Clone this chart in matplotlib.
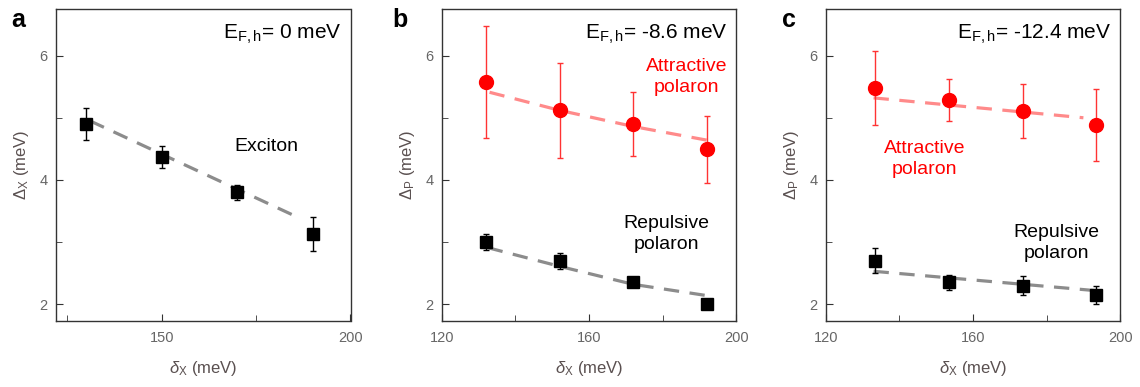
import numpy as np
import matplotlib
matplotlib.use("Agg")
import matplotlib.pyplot as plt
from matplotlib.ticker import MultipleLocator

plt.rcParams['font.family'] = ['Liberation Sans', 'DejaVu Sans']
plt.rcParams['mathtext.fontset'] = 'custom'
plt.rcParams['mathtext.rm'] = 'Liberation Sans'
plt.rcParams['mathtext.it'] = 'Liberation Sans:italic'

# panel a: exciton
x_a = [130, 150, 170, 190]
exc_y = [4.90, 4.37, 3.80, 3.13]
exc_err = [0.26, 0.18, 0.12, 0.28]
exc_fit_x = [131, 186]
exc_fit_y = [4.95, 3.40]

# panel b: E_F,h = -8.6 meV
x_b = [132, 152, 172, 192]
att_b = [5.58, 5.12, 4.90, 4.49]
att_b_err = [0.90, 0.76, 0.52, 0.54]
rep_b = [3.00, 2.70, 2.36, 2.01]
rep_b_err = [0.13, 0.13, 0.05, 0.03]
att_b_fit_x = [133, 152, 172, 192]
att_b_fit_y = [5.41, 5.12, 4.86, 4.64]
rep_b_fit_x = [132.5, 152, 172, 193]
rep_b_fit_y = [2.91, 2.61, 2.32, 2.13]

# panel c: E_F,h = -12.4 meV
x_c = [133.5, 153.5, 173.5, 193.5]
att_c = [5.48, 5.29, 5.11, 4.89]
att_c_err = [0.59, 0.34, 0.43, 0.58]
rep_c = [2.70, 2.35, 2.30, 2.15]
rep_c_err = [0.20, 0.12, 0.15, 0.15]
att_c_fit_x = [133, 190]
att_c_fit_y = [5.32, 5.00]
rep_c_fit_x = [133, 193]
rep_c_fit_y = [2.53, 2.22]

fig = plt.figure(figsize=(11.4, 3.87), dpi=100)
W, H = 1140, 387
lefts = [56, 441.7, 825.7]
axes = [fig.add_axes([l / W, (H - 321) / H, 294.5 / W, 312 / H]) for l in lefts]

tick_col = '#666666'
lab_col = '#5a5050'
grey_fit = '#8c8c8c'
red_fit = '#ff8a8a'


def style(ax, xlim, xmaj, xmin):
    ax.set_xlim(*xlim)
    ax.set_ylim(1.73, 6.75)
    ax.xaxis.set_major_locator(MultipleLocator(xmaj))
    ax.xaxis.set_minor_locator(MultipleLocator(xmin))
    ax.yaxis.set_major_locator(MultipleLocator(2))
    ax.yaxis.set_minor_locator(MultipleLocator(1))
    ax.tick_params(which='both', direction='in', colors='#333333',
                   labelcolor=tick_col, labelsize=10.5)
    ax.tick_params(which='major', length=5)
    ax.tick_params(which='minor', length=4)
    ax.tick_params(axis='x', pad=7)
    ax.tick_params(axis='y', pad=6)
    for s in ax.spines.values():
        s.set_color('#333333')
        s.set_linewidth(1.0)
    ax.set_xlabel(r'$\mathit{\delta}_{\mathrm{X}}$ (meV)', color=lab_col,
                  fontsize=12, labelpad=10)


def fit(ax, xs, ys, col):
    ax.plot(xs, ys, color=col, lw=2.3, dashes=(4.8, 3.3), zorder=1,
            solid_capstyle='butt', dash_capstyle='butt')


def pts(ax, xs, ys, err, marker, col, ecol, ms):
    ax.errorbar(xs, ys, yerr=err, fmt=marker, color=col, ecolor=ecol,
                ms=ms, capsize=2.5, elinewidth=1.0, capthick=1.0, zorder=3)


# a
ax = axes[0]
style(ax, (122, 200), 50, 25)
fit(ax, exc_fit_x, exc_fit_y, grey_fit)
pts(ax, x_a, exc_y, exc_err, 's', 'black', 'black', 9)
ax.set_ylabel(r'$\Delta_{\mathrm{X}}$ (meV)', color=lab_col, fontsize=12, labelpad=6)
ax.text(177.7, 4.53, 'Exciton', fontsize=14, ha='center', va='center')

# b
ax = axes[1]
style(ax, (120, 200), 40, 20)
fit(ax, att_b_fit_x, att_b_fit_y, red_fit)
fit(ax, rep_b_fit_x, rep_b_fit_y, grey_fit)
pts(ax, x_b, att_b, att_b_err, 'o', 'red', '#ff3333', 10)
pts(ax, x_b, rep_b, rep_b_err, 's', 'black', 'black', 9)
ax.set_ylabel(r'$\Delta_{\mathrm{P}}$ (meV)', color=lab_col, fontsize=12, labelpad=6)
ax.text(186.6, 5.65, 'Attractive\npolaron', fontsize=14, ha='center',
        va='center', color='red', linespacing=1.3)
ax.text(181, 3.13, 'Repulsive\npolaron', fontsize=14, ha='center',
        va='center', linespacing=1.3)

# c
ax = axes[2]
style(ax, (120, 200), 40, 20)
fit(ax, att_c_fit_x, att_c_fit_y, red_fit)
fit(ax, rep_c_fit_x, rep_c_fit_y, grey_fit)
pts(ax, x_c, att_c, att_c_err, 'o', 'red', '#ff3333', 10)
pts(ax, x_c, rep_c, rep_c_err, 's', 'black', 'black', 9)
ax.set_ylabel(r'$\Delta_{\mathrm{P}}$ (meV)', color=lab_col, fontsize=12, labelpad=6)
ax.text(146.8, 4.33, 'Attractive\npolaron', fontsize=14, ha='center',
        va='center', color='red', linespacing=1.3)
ax.text(182.6, 2.98, 'Repulsive\npolaron', fontsize=14, ha='center',
        va='center', linespacing=1.3)

ef_labels = [r'E$_{\mathrm{F,h}}$= 0 meV', r'E$_{\mathrm{F,h}}$= -8.6 meV',
             r'E$_{\mathrm{F,h}}$= -12.4 meV']
for ax, lab in zip(axes, ef_labels):
    ax.text(0.97, 0.92, lab, transform=ax.transAxes, ha='right', va='center',
            fontsize=15)

for l, letter in zip([18, 400, 789], ['a', 'b', 'c']):
    fig.text(l / W, 1 - 20 / H, letter, fontsize=18, fontweight='bold',
             ha='center', va='center')

fig.savefig('out.png', dpi=100)
